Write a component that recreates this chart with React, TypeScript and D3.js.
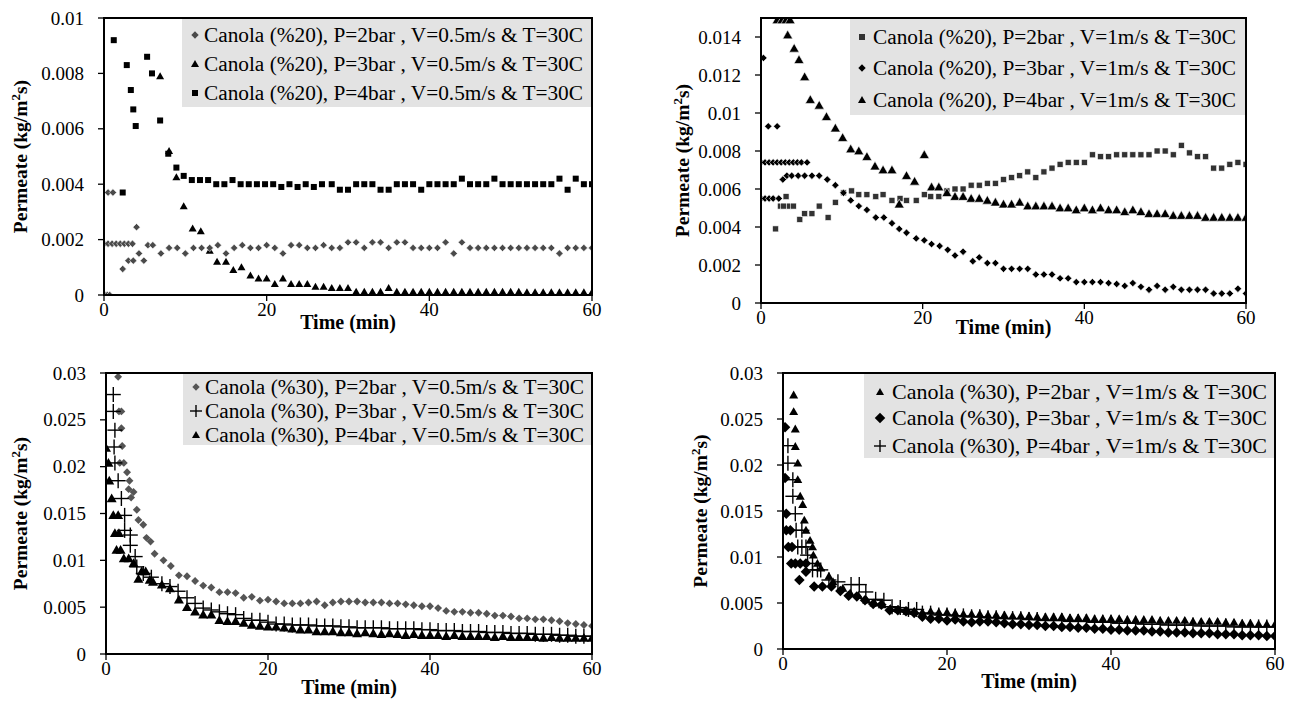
import React from "react";
import * as d3 from "d3";

type Pt = [number, number];
type Shape = "diamond" | "square" | "triangle" | "plus";

const FONT = "Liberation Serif, Times New Roman, Times, serif";

// ---------- ticks ----------
const xTicks = [0, 20, 40, 60];
const p1YTicks = [0, 0.002, 0.004, 0.006, 0.008, 0.01];
const p2YTicks = [0, 0.002, 0.004, 0.006, 0.008, 0.01, 0.012, 0.014];
const p34YTicks = [0, 0.005, 0.01, 0.015, 0.02, 0.025, 0.03];

// ---------- legend labels ----------
const p1Labels = [
  "Canola (%20), P=2bar , V=0.5m/s & T=30C",
  "Canola (%20), P=3bar , V=0.5m/s & T=30C",
  "Canola (%20), P=4bar , V=0.5m/s & T=30C",
];
const p2Labels = [
  "Canola (%20), P=2bar , V=1m/s & T=30C",
  "Canola (%20), P=3bar , V=1m/s & T=30C",
  "Canola (%20), P=4bar , V=1m/s & T=30C",
];
const p3Labels = [
  "Canola (%30), P=2bar , V=0.5m/s & T=30C",
  "Canola (%30), P=3bar , V=0.5m/s & T=30C",
  "Canola (%30), P=4bar , V=0.5m/s & T=30C",
];
const p4Labels = [
  "Canola (%30), P=2bar , V=1m/s & T=30C",
  "Canola (%30), P=3bar , V=1m/s & T=30C",
  "Canola (%30), P=4bar , V=1m/s & T=30C",
];

// ---------- panel 1 : Canola 20%, V=0.5 m/s ----------
const p1Bar2: Pt[] = [
  [0.1, 0], [0.4, 0], [0.7, 0],
  [0.5, 0.0037], [1.1, 0.0037],
  [0, 0.00185], [0.5, 0.00185], [1, 0.00185], [1.5, 0.00185], [2, 0.00185], [2.5, 0.00185], [3, 0.00185], [3.5, 0.00185],
  [2.3, 0.00094], [3.0, 0.00124], [3.6, 0.00124], [4.0, 0.00245], [4.3, 0.0015], [4.9, 0.00124], [5.4, 0.0018],
  [6, 0.0018], [7, 0.0015], [8, 0.0017], [9, 0.0017], [10, 0.0015], [11, 0.0017], [12, 0.0017], [13, 0.0017],
  [14, 0.0018], [15, 0.0015], [16, 0.0017], [17, 0.0018], [18, 0.0017], [19, 0.0017], [20, 0.0018], [21, 0.0017],
  [22, 0.0015], [23, 0.0018], [24, 0.0018], [25, 0.0017], [26, 0.0017], [27, 0.0018], [28, 0.0017], [29, 0.0017],
  [30, 0.0019], [31, 0.0019], [32, 0.0017], [33, 0.0019], [34, 0.0019], [35, 0.0017], [36, 0.0019], [37, 0.0019],
  [38, 0.0017], [39, 0.0017], [40, 0.0017], [41, 0.0017], [42, 0.0019], [43, 0.0015], [44, 0.0019], [45, 0.0017],
  [46, 0.0017], [47, 0.0017], [48, 0.0017], [49, 0.0017], [50, 0.0017], [51, 0.0017], [52, 0.0017], [53, 0.0017],
  [54, 0.0017], [55, 0.0017], [56, 0.0015], [57, 0.0017], [58, 0.0017], [59, 0.0017], [60, 0.0017],
];
const p1Bar3: Pt[] = [
  [6.9, 0.0079], [8.0, 0.0052], [8.9, 0.00425], [9.8, 0.0032], [10.9, 0.0024], [11.9, 0.0023], [13, 0.0016],
  [13.9, 0.0012], [15, 0.0012], [15.9, 0.0009], [16.9, 0.001], [18, 0.0007], [19, 0.0006], [20, 0.0006],
  [21, 0.0004], [22, 0.0006], [23, 0.0004], [24, 0.0004], [25, 0.0004], [26, 0.0003], [27, 0.0003],
  [28, 0.00025], [29, 0.00025], [30, 0.00025], [31, 0.00012], [32, 0.00012], [33, 0.00012], [34, 0.00012],
  [35, 0.00025], [36, 0.00012], [37, 0.00012], [38, 0.00012], [39, 0.00012], [40, 0.00012], [41, 0.00012],
  [42, 0.00012], [43, 0.00012], [44, 0.00012], [45, 0.00012], [46, 0.00012], [47, 0.00012], [48, 0.00012],
  [49, 0.00012], [50, 0.00012], [51, 0.00012], [52, 0.0001], [53, 0.0001], [54, 0.0001], [55, 0.0001],
  [56, 0.0001], [57, 0.0001], [58, 0.0001], [59, 0.0001], [60, 0.0001],
];
const p1Bar4: Pt[] = [
  [1.2, 0.0092], [2.3, 0.0037], [2.8, 0.0083], [3.3, 0.0074], [3.6, 0.0067], [3.9, 0.0061], [5.3, 0.0086],
  [5.9, 0.008], [6.9, 0.0063], [7.9, 0.0051], [8.9, 0.0046], [9.8, 0.0043], [10.8, 0.00415], [11.8, 0.00415],
  [12.8, 0.00415], [13.8, 0.004], [14.8, 0.004], [15.8, 0.00415], [16.8, 0.004], [17.8, 0.004], [18.8, 0.004],
  [19.8, 0.004], [20.8, 0.004], [21.8, 0.0039], [22.8, 0.004], [23.8, 0.0039], [24.8, 0.004], [25.8, 0.0039],
  [26.8, 0.004], [28, 0.004], [29, 0.0038], [30, 0.0038], [31, 0.004], [32, 0.004], [33, 0.004], [34, 0.0038],
  [35, 0.0038], [36, 0.004], [37, 0.004], [38, 0.004], [39, 0.0038], [40, 0.004], [41, 0.004], [42, 0.004],
  [43, 0.004], [44, 0.0042], [45, 0.004], [46, 0.004], [47, 0.004], [48, 0.0042], [49, 0.004], [50, 0.004],
  [51, 0.004], [52, 0.004], [53, 0.004], [54, 0.004], [55, 0.004], [56, 0.0042], [57, 0.0038], [58, 0.0042],
  [59, 0.004], [60, 0.004],
];

// ---------- panel 2 : Canola 20%, V=1 m/s ----------
const p2Bar2: Pt[] = [
  [1.8, 0.0039], [2.4, 0.0051], [2.8, 0.0051], [3.1, 0.0056], [3.5, 0.0051], [4.0, 0.0051], [4.8, 0.0044],
  [5.4, 0.0047], [6.3, 0.0047], [7.2, 0.0051], [8.3, 0.0045], [9.2, 0.0053], [10.2, 0.0058], [11.2, 0.0059],
  [12.1, 0.0057], [13.1, 0.0057], [14.2, 0.0056], [15.1, 0.0057], [16.2, 0.0054], [17.2, 0.0055], [18, 0.0054],
  [19.2, 0.0054], [20.2, 0.0057], [21, 0.0056], [22, 0.0056], [23, 0.0059], [24, 0.006], [25, 0.006],
  [26, 0.0062], [27, 0.0062], [28, 0.0063], [29, 0.0063], [30, 0.0065], [31, 0.0066], [32, 0.0067],
  [33, 0.0069], [34, 0.0066], [35, 0.0069], [36, 0.0071], [37, 0.0073], [38, 0.0074], [39, 0.0074],
  [40, 0.0074], [41, 0.0078], [42, 0.0077], [43, 0.0077], [44, 0.0078], [45, 0.0078], [46, 0.0078],
  [47, 0.0078], [48, 0.0078], [49, 0.008], [50, 0.008], [51, 0.0078], [52, 0.0083], [53, 0.0079],
  [54, 0.0077], [55, 0.0077], [56, 0.0071], [57, 0.0071], [58, 0.0073], [59, 0.0074], [60, 0.0073],
];
const p2Bar3: Pt[] = [
  [0.3, 0.0129], [0.9, 0.0093], [2.0, 0.0093],
  [0, 0.0074], [0.5, 0.0074], [1, 0.0074], [1.5, 0.0074], [2, 0.0074], [2.5, 0.0074], [3, 0.0074],
  [3.5, 0.0074], [4, 0.0074], [4.5, 0.0074], [5, 0.0074], [5.7, 0.0074],
  [0, 0.0055], [0.5, 0.0055], [1, 0.0055], [1.5, 0.0055], [2.2, 0.0055],
  [2.7, 0.0065], [3.2, 0.0067], [3.8, 0.0067], [4.6, 0.0067], [5.4, 0.0067], [6.3, 0.0067], [7.2, 0.0067],
  [8.2, 0.0065], [9.2, 0.0062], [10.2, 0.0058], [11.1, 0.0054], [12.1, 0.0051], [13.1, 0.0049], [14.2, 0.0045],
  [15.2, 0.0045], [16.2, 0.0042], [17.1, 0.0039], [18, 0.0037], [19.2, 0.0034], [20.2, 0.0033], [21.1, 0.0031],
  [22.1, 0.003], [23.1, 0.0028], [24, 0.0025], [25, 0.0027], [26.2, 0.0022], [27, 0.0024], [28, 0.0021],
  [29, 0.0021], [30, 0.0018], [31, 0.0018], [32, 0.0018], [33, 0.0018], [34, 0.0015], [35, 0.0015],
  [36, 0.0015], [37, 0.0013], [38, 0.0013], [39, 0.0011], [40, 0.0011], [41, 0.0011], [42, 0.0011],
  [43, 0.00105], [44, 0.001], [45, 0.0009], [46, 0.00105], [47, 0.00085], [48, 0.0007], [49, 0.0009],
  [50, 0.0007], [51, 0.00085], [52, 0.0007], [53, 0.0007], [54, 0.0007], [55, 0.0007], [56, 0.0005],
  [57, 0.0005], [58, 0.0005], [59, 0.00075], [60, 0.0005],
];
const p2Bar4: Pt[] = [
  [2, 0.0149], [2.6, 0.0149], [3.1, 0.0149], [3.6, 0.0149], [3.3, 0.0141], [4.1, 0.0134], [4.7, 0.0128],
  [5.4, 0.0119], [6.1, 0.0107], [7.2, 0.0104], [8.1, 0.0098], [9.2, 0.0092], [10.1, 0.0087], [11.1, 0.0081],
  [12.1, 0.008], [13.1, 0.0077], [14.1, 0.0072], [15.1, 0.007], [16.2, 0.007], [17.1, 0.0052], [18, 0.0067],
  [19, 0.0064], [20.2, 0.0078], [21.1, 0.0061], [22, 0.0061], [23, 0.0058], [24, 0.0056], [25, 0.0056],
  [26, 0.0055], [27, 0.0055], [28, 0.0054], [29, 0.0053], [30, 0.0052], [31, 0.0052], [32, 0.0053],
  [33, 0.0051], [34, 0.0051], [35, 0.0051], [36, 0.0051], [37, 0.005], [38, 0.005], [39, 0.0049],
  [40, 0.005], [41, 0.0049], [42, 0.005], [43, 0.0049], [44, 0.0049], [45, 0.0048], [46, 0.0049],
  [47, 0.0048], [48, 0.0047], [49, 0.0047], [50, 0.0047], [51, 0.0046], [52, 0.0046], [53, 0.0046],
  [54, 0.0046], [55, 0.0045], [56, 0.0045], [57, 0.0045], [58, 0.0045], [59, 0.0045], [60, 0.0045],
];

// ---------- panel 3 : Canola 30%, V=0.5 m/s ----------
const p3Bar2: Pt[] = [
  [1.5, 0.0296], [1.6, 0.0259], [1.9, 0.0259], [1.9, 0.0241], [2.0, 0.0222], [1.7, 0.0204], [2.2, 0.0204],
  [2.6, 0.0194], [2.9, 0.0185], [2.8, 0.0176], [3.4, 0.0173], [3.1, 0.0167], [3.8, 0.0154], [4.0, 0.0143],
  [4.6, 0.0138], [5.0, 0.0124], [5.5, 0.012], [6, 0.0107], [7.1, 0.01], [8, 0.0094], [9, 0.0084], [10, 0.0083],
  [11, 0.0078], [12, 0.0073], [13, 0.0071], [14, 0.0066], [15, 0.0066], [16, 0.0065], [17, 0.006], [18, 0.0061],
  [19, 0.0057], [20, 0.0058], [21, 0.0056], [22, 0.0054], [23, 0.0054], [24, 0.0054], [25, 0.0055],
  [26, 0.0056], [27, 0.0052], [28, 0.0055], [29, 0.0056], [30, 0.0056], [31, 0.0056], [32, 0.0055],
  [33, 0.0055], [34, 0.0055], [35, 0.0054], [36, 0.0054], [37, 0.0053], [38, 0.0052], [39, 0.0051],
  [40, 0.0051], [41, 0.0049], [42, 0.0046], [43, 0.0045], [44, 0.0045], [45, 0.0044], [46, 0.0044],
  [47, 0.0043], [48, 0.0041], [49, 0.0041], [50, 0.004], [51, 0.0038], [52, 0.0038], [53, 0.0037],
  [54, 0.0037], [55, 0.0036], [56, 0.0035], [57, 0.0033], [58, 0.0032], [59, 0.0031], [60, 0.003],
];
const p3Bar3: Pt[] = [
  [0.9, 0.0277], [0.9, 0.0259], [1.1, 0.0239], [1.0, 0.0221], [1.1, 0.0204], [1.5, 0.0185], [1.9, 0.0166],
  [2.3, 0.0148], [2.3, 0.0132], [3.0, 0.0127], [3.0, 0.0116], [3.6, 0.0104], [3.8, 0.0093], [4.6, 0.0086],
  [5.6, 0.0082], [6.9, 0.0075], [7.9, 0.0072], [8.9, 0.0067], [10, 0.006], [11, 0.0054], [12, 0.0049],
  [13, 0.0047], [14, 0.0045], [15, 0.0043], [16, 0.0042], [17, 0.0038], [18, 0.0036], [19, 0.0036],
  [20, 0.0034], [21, 0.0032], [22, 0.0032], [23, 0.0031], [24, 0.0031], [25, 0.0031], [26, 0.003],
  [27, 0.003], [28, 0.003], [29, 0.0029], [30, 0.0029], [31, 0.0028], [32, 0.0028], [33, 0.0028],
  [34, 0.0028], [35, 0.0027], [36, 0.0027], [37, 0.0027], [38, 0.0027], [39, 0.0026], [40, 0.0026],
  [41, 0.0025], [42, 0.0025], [43, 0.0025], [44, 0.0024], [45, 0.0024], [46, 0.0024], [47, 0.0023],
  [48, 0.0023], [49, 0.0023], [50, 0.0022], [51, 0.0022], [52, 0.0022], [53, 0.0021], [54, 0.0021],
  [55, 0.0021], [56, 0.002], [57, 0.002], [58, 0.0019], [59, 0.0019], [60, 0.0019],
];
const p3Bar4: Pt[] = [
  [0, 0.022], [0.3, 0.0204], [0.4, 0.0185], [0.7, 0.0166], [0.9, 0.0148], [1.5, 0.0148], [1.1, 0.0129],
  [1.6, 0.0129], [1.3, 0.0111], [1.8, 0.0111], [2.2, 0.0102], [2.8, 0.0102], [3.4, 0.0097], [4.0, 0.008],
  [4.4, 0.0088], [4.9, 0.0088], [5.4, 0.0079], [5.8, 0.0077], [6.9, 0.0074], [7.9, 0.007], [9, 0.0058],
  [10, 0.005], [11, 0.0045], [12, 0.0042], [13, 0.0042], [14, 0.0036], [15, 0.0035], [16, 0.0035],
  [17, 0.0033], [18, 0.0031], [19, 0.003], [20, 0.0029], [21, 0.0029], [22, 0.0028], [23, 0.0027],
  [24, 0.0026], [25, 0.0026], [26, 0.0024], [27, 0.0024], [28, 0.0024], [29, 0.0023], [30, 0.0023],
  [31, 0.0022], [32, 0.0023], [33, 0.0022], [34, 0.0021], [35, 0.0022], [36, 0.0021], [37, 0.002],
  [38, 0.0021], [39, 0.002], [40, 0.002], [41, 0.002], [42, 0.0019], [43, 0.002], [44, 0.0019],
  [45, 0.0019], [46, 0.0019], [47, 0.0019], [48, 0.0018], [49, 0.0019], [50, 0.0018], [51, 0.0018],
  [52, 0.0018], [53, 0.0018], [54, 0.0017], [55, 0.0018], [56, 0.0017], [57, 0.0017], [58, 0.0017],
  [59, 0.0017], [60, 0.0017],
];

// ---------- panel 4 : Canola 30%, V=1 m/s ----------
const p4Bar2: Pt[] = [
  [1.3, 0.0276], [1.3, 0.0258], [1.5, 0.0239], [1.5, 0.022], [1.8, 0.0202], [1.8, 0.0184], [2.1, 0.0166],
  [2.4, 0.0157], [2.6, 0.014], [2.8, 0.0129], [3.3, 0.0118], [3.6, 0.0111], [3.7, 0.0102], [4.2, 0.0093],
  [4.6, 0.0088], [5.6, 0.0079], [6.1, 0.0073], [7.3, 0.0066], [8.2, 0.0061], [9.2, 0.0058], [10.2, 0.0053],
  [11.1, 0.005], [12.1, 0.0048], [13.1, 0.0044], [14.1, 0.0043], [15.1, 0.0041], [16, 0.0041], [17, 0.004],
  [18, 0.0041], [19, 0.004], [20, 0.004], [21, 0.0039], [22, 0.0038], [23, 0.0038], [24, 0.0038],
  [25, 0.0037], [26, 0.0037], [27, 0.0037], [28, 0.0036], [29, 0.0036], [30, 0.0036], [31, 0.0035],
  [32, 0.0035], [33, 0.0035], [34, 0.0035], [35, 0.0034], [36, 0.0034], [37, 0.0034], [38, 0.0033],
  [39, 0.0033], [40, 0.0033], [41, 0.0033], [42, 0.0032], [43, 0.0032], [44, 0.0032], [45, 0.0032],
  [46, 0.0031], [47, 0.0031], [48, 0.0031], [49, 0.0031], [50, 0.003], [51, 0.003], [52, 0.003],
  [53, 0.003], [54, 0.0029], [55, 0.0029], [56, 0.0028], [57, 0.0028], [58, 0.0027], [59, 0.0027], [60, 0.0027],
];
const p4Bar3: Pt[] = [
  [0.25, 0.0241], [0.25, 0.0186], [0.4, 0.0147], [0.4, 0.0129], [0.9, 0.0129], [0.65, 0.0111], [1.1, 0.0111],
  [1, 0.0093], [1.5, 0.0093], [2.1, 0.0093], [2.8, 0.0093], [2, 0.0075], [2.8, 0.0084], [3.8, 0.0068],
  [4.8, 0.0068], [5.9, 0.0068], [7, 0.0063], [8, 0.0058], [9, 0.0057], [10, 0.0053], [11, 0.0049], [12, 0.0048],
  [13, 0.0042], [14, 0.0042], [15, 0.0041], [16, 0.0039], [17, 0.0035], [18, 0.0033], [19, 0.0033],
  [20, 0.0031], [21, 0.0032], [22, 0.003], [23, 0.0029], [24, 0.003], [25, 0.003], [26, 0.0029],
  [27, 0.0028], [28, 0.0027], [29, 0.0027], [30, 0.0026], [31, 0.0026], [32, 0.0025], [33, 0.0025],
  [34, 0.0024], [35, 0.0024], [36, 0.0023], [37, 0.0023], [38, 0.0022], [39, 0.0022], [40, 0.0021],
  [41, 0.0021], [42, 0.002], [43, 0.002], [44, 0.002], [45, 0.0019], [46, 0.0019], [47, 0.0018],
  [48, 0.0018], [49, 0.0018], [50, 0.0017], [51, 0.0017], [52, 0.0017], [53, 0.0016], [54, 0.0016],
  [55, 0.0016], [56, 0.0015], [57, 0.0015], [58, 0.0015], [59, 0.0014], [60, 0.0014],
];
const p4Bar4: Pt[] = [
  [0.6, 0.0221], [0.6, 0.0202], [1.2, 0.0184], [1.2, 0.0166], [1.5, 0.0147], [1.6, 0.0129], [2.3, 0.0129],
  [1.8, 0.0111], [2.3, 0.0111], [2.8, 0.0111], [3, 0.0102], [3.6, 0.0093], [3.6, 0.0086], [4.2, 0.0086],
  [4.6, 0.0086], [5.6, 0.0075], [6.7, 0.0073], [8.3, 0.007], [9.3, 0.007], [10.1, 0.0062], [11.3, 0.0054],
  [12.3, 0.0053], [13.3, 0.0046], [14.3, 0.0045], [15.3, 0.0043], [16.3, 0.0043], [17, 0.0039], [18, 0.0039],
  [19, 0.0037], [20, 0.0037], [21, 0.0036], [22, 0.0036], [23, 0.0035], [24, 0.0035], [25, 0.0034],
  [26, 0.0034], [27, 0.0033], [28, 0.0033], [29, 0.0033], [30, 0.0032], [31, 0.0032], [32, 0.0031],
  [33, 0.0031], [34, 0.0031], [35, 0.003], [36, 0.003], [37, 0.003], [38, 0.0029], [39, 0.0029],
  [40, 0.0029], [41, 0.0028], [42, 0.0028], [43, 0.0028], [44, 0.0027], [45, 0.0027], [46, 0.0027],
  [47, 0.0026], [48, 0.0026], [49, 0.0026], [50, 0.0026], [51, 0.0025], [52, 0.0025], [53, 0.0025],
  [54, 0.0025], [55, 0.0024], [56, 0.0024], [57, 0.0024], [58, 0.0024], [59, 0.0024], [60, 0.0024],
];

// ---------- panel configuration ----------
type Series = { data: Pt[]; label: string; shape: Shape; size: number; fill: string; outline?: boolean };
type Panel = {
  id: string;
  box: { l: number; r: number; t: number; b: number };
  yMax: number;
  yTicks: number[];
  titleDy: number;
  yTitleX: number;
  legend: { x0: number; y1: number; markerX: number; textX: number; rows: number[]; font: number; msize: number[] };
  series: Series[];
};

const panels: Panel[] = [
  {
    id: "p1",
    box: { l: 104, r: 592, t: 18, b: 295 },
    yMax: 0.01,
    yTicks: p1YTicks,
    titleDy: 34,
    yTitleX: 20,
    legend: { x0: 182, y1: 107, markerX: 195, textX: 204, rows: [35, 64, 93], font: 21.3, msize: [7, 8, 6] },
    series: [
      { data: p1Bar3, label: p1Labels[1], shape: "triangle", size: 8, fill: "#000" },
      { data: p1Bar2, label: p1Labels[0], shape: "diamond", size: 7, fill: "#4a4a4a", outline: true },
      { data: p1Bar4, label: p1Labels[2], shape: "square", size: 6, fill: "#000" },
    ],
  },
  {
    id: "p2",
    box: { l: 761, r: 1246, t: 18, b: 303 },
    yMax: 0.015,
    yTicks: p2YTicks,
    titleDy: 31,
    yTitleX: 682,
    legend: { x0: 850, y1: 115, markerX: 862, textX: 873, rows: [37, 68, 100], font: 21.3, msize: [6, 7, 8] },
    series: [
      { data: p2Bar2, label: p2Labels[0], shape: "square", size: 6, fill: "#333", outline: true },
      { data: p2Bar3, label: p2Labels[1], shape: "diamond", size: 7, fill: "#000", outline: true },
      { data: p2Bar4, label: p2Labels[2], shape: "triangle", size: 10, fill: "#000", outline: true },
    ],
  },
  {
    id: "p3",
    box: { l: 106, r: 592, t: 373, b: 654 },
    yMax: 0.03,
    yTicks: p34YTicks,
    titleDy: 40,
    yTitleX: 20,
    legend: { x0: 183, y1: 445, markerX: 196, textX: 205, rows: [387, 411, 435], font: 21.3, msize: [7, 12, 8] },
    series: [
      { data: p3Bar2, label: p3Labels[0], shape: "diamond", size: 7.5, fill: "#555" },
      { data: p3Bar3, label: p3Labels[1], shape: "plus", size: 15, fill: "#000" },
      { data: p3Bar4, label: p3Labels[2], shape: "triangle", size: 10, fill: "#000" },
    ],
  },
  {
    id: "p4",
    box: { l: 783, r: 1275, t: 373, b: 649 },
    yMax: 0.03,
    yTicks: p34YTicks,
    titleDy: 39,
    yTitleX: 700,
    legend: { x0: 864, y1: 458, markerX: 880, textX: 892, rows: [392, 418, 446], font: 22, msize: [8, 10, 12] },
    series: [
      { data: p4Bar2, label: p4Labels[0], shape: "triangle", size: 9, fill: "#000" },
      { data: p4Bar3, label: p4Labels[1], shape: "diamond", size: 10, fill: "#000" },
      { data: p4Bar4, label: p4Labels[2], shape: "plus", size: 15, fill: "#000" },
    ],
  },
];

function Marker({ shape, x, y, size, fill, outline }: { shape: Shape; x: number; y: number; size: number; fill: string; outline?: boolean }) {
  const r = size / 2;
  const stroke = outline ? "#fff" : "none";
  const sw = outline ? 0.6 : 0;
  if (shape === "diamond") {
    const rr = r * 1.05;
    return <path d={`M${x},${y - rr}L${x + rr},${y}L${x},${y + rr}L${x - rr},${y}Z`} fill={fill} stroke={stroke} strokeWidth={sw} />;
  }
  if (shape === "square") {
    return <rect x={x - r} y={y - r} width={size} height={size} fill={fill} stroke={stroke} strokeWidth={sw} />;
  }
  if (shape === "triangle") {
    return <path d={`M${x},${y - r}L${x + r},${y + r * 0.75}L${x - r},${y + r * 0.75}Z`} fill={fill} stroke={stroke} strokeWidth={sw} />;
  }
  return (
    <g stroke={fill} strokeWidth={1.4}>
      <line x1={x - r} x2={x + r} y1={y} y2={y} />
      <line x1={x} x2={x} y1={y - r} y2={y + r} />
    </g>
  );
}

function fmt(v: number) {
  return String(+v.toFixed(4));
}

function PanelView({ p }: { p: Panel }) {
  const { l, r, t, b } = p.box;
  const x = d3.scaleLinear().domain([0, 60]).range([l, r]);
  const y = d3.scaleLinear().domain([0, p.yMax]).range([b, t]);
  const legendOrder = [...p.series].sort((a, c) => a.label.localeCompare(c.label));
  const cy = (t + b) / 2;
  return (
    <g>
      <defs>
        <clipPath id={`clip-${p.id}`}>
          <rect x={l} y={t} width={r - l} height={b - t} />
        </clipPath>
      </defs>
      <g clipPath={`url(#clip-${p.id})`}>
        {p.series.map((s, si) => (
          <g key={si}>
            {s.data.map((d, i) => (
              <Marker key={i} shape={s.shape} x={x(d[0])} y={y(d[1])} size={s.size} fill={s.fill} outline={s.outline} />
            ))}
          </g>
        ))}
      </g>
      {/* legend */}
      <rect x={p.legend.x0} y={t + 1} width={r - 1 - p.legend.x0} height={p.legend.y1 - t - 1} fill="#e3e3e3" />
      {legendOrder.map((s, i) => (
        <g key={i}>
          <Marker shape={s.shape} x={p.legend.markerX} y={p.legend.rows[i]} size={p.legend.msize[i]} fill={s.fill} />
          <text x={p.legend.textX} y={p.legend.rows[i]} dy="0.34em" fontSize={p.legend.font} fontFamily={FONT} fill="#000">
            {s.label}
          </text>
        </g>
      ))}
      {/* frame */}
      <rect x={l} y={t} width={r - l} height={b - t} fill="none" stroke="#000" strokeWidth={2} />
      {/* y ticks */}
      {p.yTicks.map((v) => (
        <g key={v}>
          <line x1={l - 6} x2={l} y1={y(v)} y2={y(v)} stroke="#000" strokeWidth={1.3} />
          <text x={l - 20} y={y(v)} dy="0.35em" textAnchor="end" fontSize={19} fontFamily={FONT} fill="#000">
            {fmt(v)}
          </text>
        </g>
      ))}
      {/* x ticks */}
      {xTicks.map((v) => (
        <g key={v}>
          <line x1={x(v)} x2={x(v)} y1={b} y2={b + 6} stroke="#000" strokeWidth={1.3} />
          <text x={x(v)} y={b + 21} textAnchor="middle" fontSize={19} fontFamily={FONT} fill="#000">
            {v}
          </text>
        </g>
      ))}
      <text x={(l + r) / 2} y={b + p.titleDy} textAnchor="middle" fontSize={20} fontWeight="bold" fontFamily={FONT} fill="#000">
        Time (min)
      </text>
      <text
        transform={`translate(${p.yTitleX},${cy}) rotate(-90)`}
        textAnchor="middle"
        dy="0.35em"
        fontSize={19.5}
        fontWeight="bold"
        fontFamily={FONT}
        fill="#000"
      >
        Permeate (kg/m<tspan dy={-7} fontSize={13}>2</tspan>
        <tspan dy={7}>s)</tspan>
      </text>
    </g>
  );
}

export default function App() {
  return (
    <svg
      width={1294}
      height={704}
      viewBox="0 0 1294 704"
      style={{ position: "absolute", left: 0, top: 0, display: "block", background: "#fff" }}
    >
      <rect x={0} y={0} width={1294} height={704} fill="#fff" />
      {panels.map((p) => (
        <PanelView key={p.id} p={p} />
      ))}
    </svg>
  );
}
